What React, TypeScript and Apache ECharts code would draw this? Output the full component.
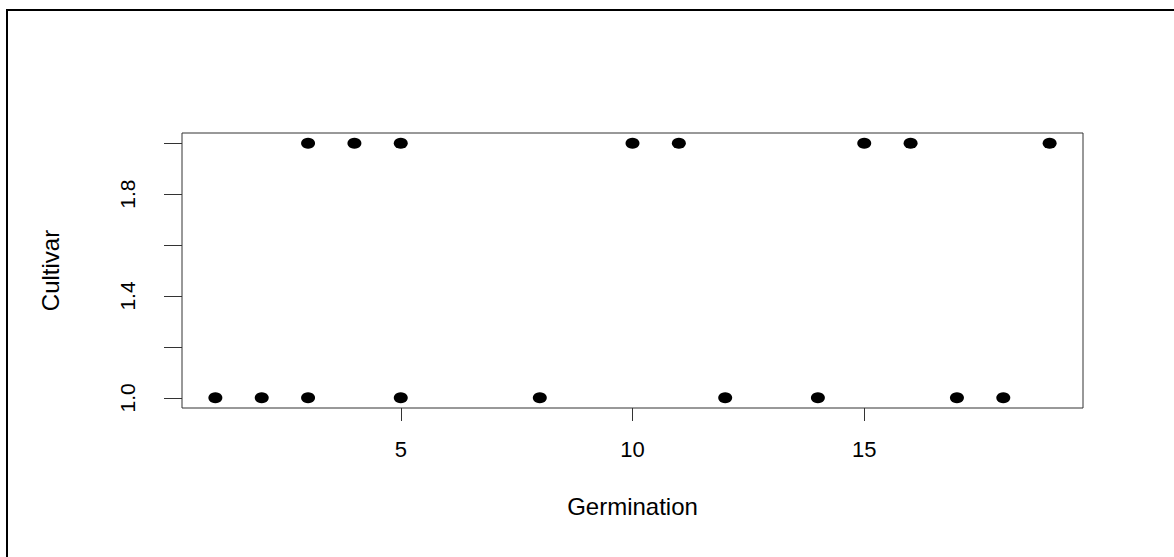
import React, { useEffect, useRef } from "react";
import * as echarts from "echarts";

const germination = [1, 2, 3, 5, 8, 12, 14, 17, 18, 3, 4, 5, 10, 11, 15, 16, 19];
const cultivar = [1, 1, 1, 1, 1, 1, 1, 1, 1, 2, 2, 2, 2, 2, 2, 2, 2];
const xTicks = [5, 10, 15];
const yTicks = [1.0, 1.2, 1.4, 1.6, 1.8, 2.0];
const yLabels = [1.0, 1.4, 1.8];
const xName = "Germination";
const yName = "Cultivar";

const FONT = "'Liberation Sans', Arial, sans-serif";

export default function App() {
  const ref = useRef<HTMLDivElement>(null);
  useEffect(() => {
    if (!ref.current) return;
    const chart = echarts.init(ref.current, null, { renderer: "svg" });
    const data = germination.map((g, i) => [g, cultivar[i]]);
    chart.setOption({
      animation: false,
      backgroundColor: "#fff",
      grid: {
        left: 182,
        right: 91,
        top: 133,
        bottom: 149,
        show: true,
        borderColor: "#333",
        borderWidth: 1,
        backgroundColor: "transparent",
      },
      xAxis: {
        type: "value",
        min: 0.28,
        max: 19.72,
        name: xName,
        nameLocation: "middle",
        nameGap: 86,
        nameTextStyle: { color: "#000", fontSize: 24, fontFamily: FONT },
        axisLine: { show: false },
        splitLine: { show: false },
        axisTick: {
          show: true,
          inside: false,
          length: 13,
          customValues: xTicks,
          lineStyle: { color: "#333", width: 1 },
        },
        axisLabel: {
          customValues: xTicks,
          margin: 30,
          color: "#000",
          fontSize: 22,
          fontFamily: FONT,
          formatter: (v: number) => String(v),
        },
      },
      yAxis: {
        type: "value",
        min: 0.96,
        max: 2.04,
        name: yName,
        nameLocation: "middle",
        nameRotate: 90,
        nameGap: 120,
        nameTextStyle: { color: "#000", fontSize: 24, fontFamily: FONT },
        axisLine: { show: false },
        splitLine: { show: false },
        axisTick: {
          show: true,
          inside: false,
          length: 18,
          customValues: yTicks,
          lineStyle: { color: "#333", width: 1 },
        },
        axisLabel: {
          customValues: yLabels,
          rotate: 90,
          margin: 44,
          color: "#000",
          fontSize: 21,
          fontFamily: FONT,
          formatter: (v: number) => v.toFixed(1),
        },
      },
      graphic: [
        {
          type: "line",
          shape: { x1: 7, y1: 9, x2: 7, y2: 557 },
          style: { stroke: "#000", lineWidth: 2 },
        },
        {
          type: "line",
          shape: { x1: 6, y1: 10, x2: 1174, y2: 10 },
          style: { stroke: "#000", lineWidth: 2 },
        },
      ],
      series: [
        {
          type: "scatter",
          data,
          symbol: "circle",
          symbolSize: [14, 11],
          itemStyle: { color: "#000", opacity: 1 },
          silent: true,
        },
      ],
    });
    return () => chart.dispose();
  }, []);
  return (
    <div
      ref={ref}
      style={{ position: "absolute", left: 0, top: 0, width: 1174, height: 557, background: "#fff" }}
    />
  );
}
